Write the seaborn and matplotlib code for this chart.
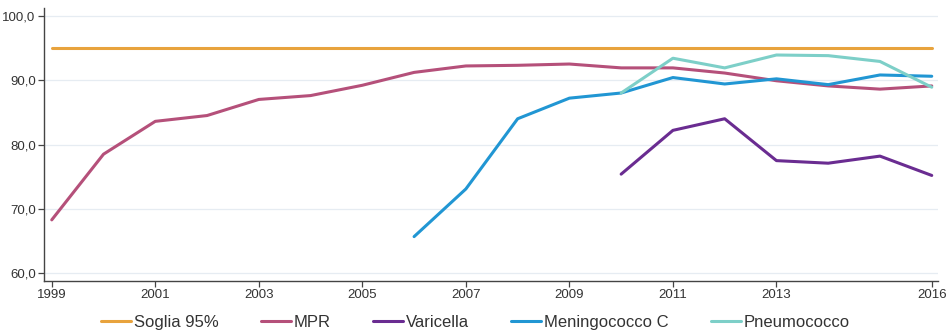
import numpy as np
import pandas as pd
import seaborn as sns
import matplotlib.pyplot as plt
from matplotlib.ticker import FuncFormatter

anni = list(range(1999, 2017))
soglia = [95.0] * 18
mpr = [68.3, 78.5, 83.6, 84.5, 87.0, 87.6, 89.2, 91.2, 92.2, 92.3, 92.5, 91.9, 91.9, 91.1, 89.9, 89.1, 88.6, 89.1]
varicella_anni = list(range(2010, 2017))
varicella = [75.4, 82.2, 84.0, 77.5, 77.1, 78.2, 75.2]
menc_anni = list(range(2006, 2017))
menc = [65.7, 73.1, 84.0, 87.2, 88.0, 90.4, 89.4, 90.2, 89.3, 90.8, 90.6]
pneumo_anni = list(range(2010, 2017))
pneumo = [88.0, 93.4, 91.9, 93.9, 93.8, 92.9, 88.9]

serie = ["Soglia 95%", "MPR", "Varicella", "Meningococco C", "Pneumococco"]
colori = ["#E8A33D", "#B5507A", "#6A2C91", "#2196D3", "#7DCFC8"]

# tabella lunga per seaborn
df = pd.concat([
    pd.DataFrame({"anno": anni, "valore": soglia, "serie": "Soglia 95%"}),
    pd.DataFrame({"anno": anni, "valore": mpr, "serie": "MPR"}),
    pd.DataFrame({"anno": varicella_anni, "valore": varicella, "serie": "Varicella"}),
    pd.DataFrame({"anno": menc_anni, "valore": menc, "serie": "Meningococco C"}),
    pd.DataFrame({"anno": pneumo_anni, "valore": pneumo, "serie": "Pneumococco"}),
])

sns.set_style("white")
plt.rcParams['font.family'] = ['Liberation Sans Narrow', 'Liberation Sans', 'DejaVu Sans']

fig = plt.figure(figsize=(9.48, 3.33), dpi=100)
ax = fig.add_axes([0.0464, 0.156, 0.943, 0.82])

sns.lineplot(data=df, x="anno", y="valore", hue="serie", hue_order=serie,
             palette=colori, linewidth=2.2, ax=ax, legend=True)

ax.set_xlim(1998.85, 2016.12)
ax.set_ylim(58.8, 101.2)
ax.set_yticks([60, 70, 80, 90, 100])
ax.yaxis.set_major_formatter(FuncFormatter(lambda v, p: f"{v:.1f}".replace(".", ",")))
ax.set_xticks([1999, 2001, 2003, 2005, 2007, 2009, 2011, 2013, 2016])
ax.grid(axis="y", color="#E6ECF2", linewidth=0.9)
ax.set_axisbelow(True)
for s in ["top", "right"]:
    ax.spines[s].set_visible(False)
for s in ["left", "bottom"]:
    ax.spines[s].set_color("#444444")
    ax.spines[s].set_linewidth(1.0)
ax.tick_params(axis="both", which="major", length=4, width=0.9, color="#444444",
               labelsize=9.5, labelcolor="#333333", left=True, bottom=True, pad=2)
ax.set_xlabel("")
ax.set_ylabel("")

handles, labels = ax.get_legend_handles_labels()
ax.get_legend().remove()
fig.legend(handles, labels, loc="center", bbox_to_anchor=(0.5016, 0.033), ncol=5,
           frameon=False, prop={"family": "Liberation Sans", "size": 12},
           handlelength=1.8, handletextpad=0.2, columnspacing=2.5,
           labelcolor="#333333")

plt.savefig("out.png", dpi=100)
